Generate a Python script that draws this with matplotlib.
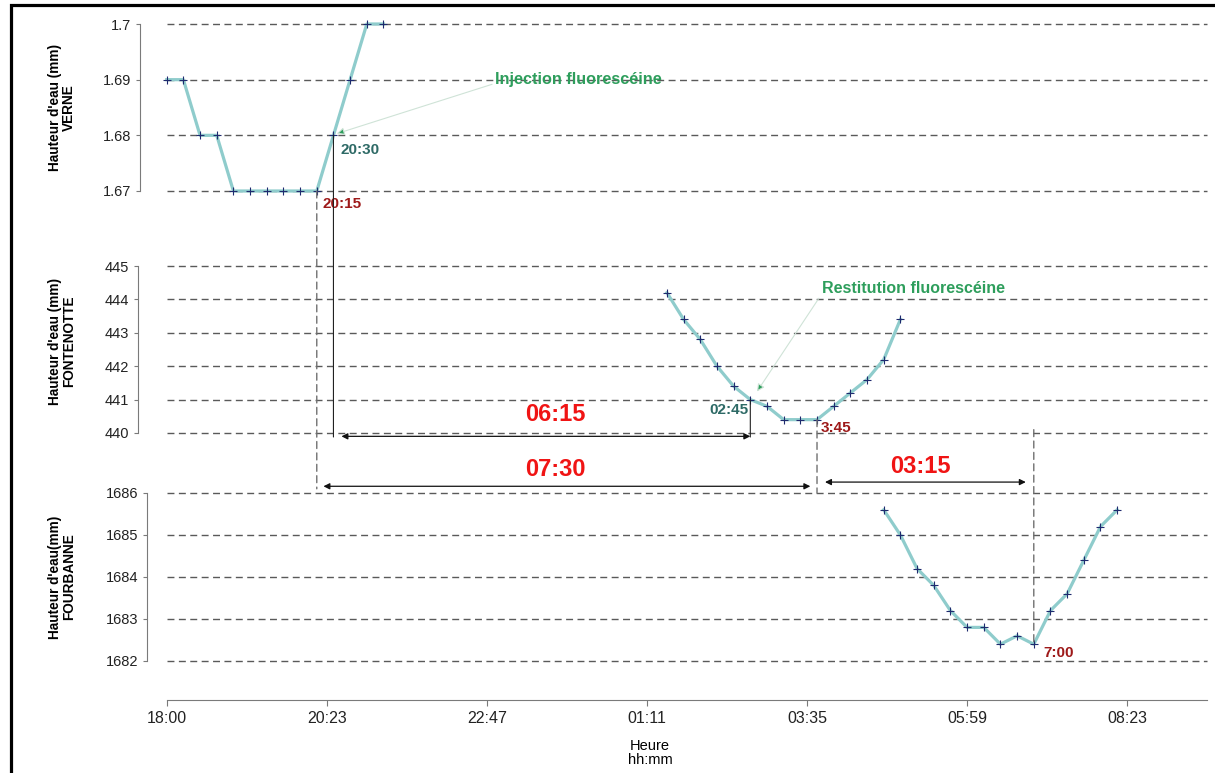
import matplotlib.pyplot as plt
from matplotlib.patches import Rectangle, ConnectionPatch

# ==========================================================
# DONNEES
# ==========================================================
verne_heures = ['18:00', '18:15', '18:30', '18:45', '19:00', '19:15', '19:30',
                '19:45', '20:00', '20:15', '20:30', '20:45', '21:00', '21:15']
verne_h = [1.69, 1.69, 1.68, 1.68, 1.67, 1.67, 1.67, 1.67, 1.67, 1.67, 1.68, 1.69, 1.70, 1.70]

fonten_heures = ['01:30', '01:45', '02:00', '02:15', '02:30', '02:45', '03:00', '03:15',
                 '03:30', '03:45', '04:00', '04:15', '04:30', '04:45', '05:00']
fonten_h = [444.2, 443.4, 442.8, 442.0, 441.4, 441.0, 440.8, 440.4,
            440.4, 440.4, 440.8, 441.2, 441.6, 442.2, 443.4]

fourb_heures = ['04:45', '05:00', '05:15', '05:30', '05:45', '06:00', '06:15', '06:30',
                '06:45', '07:00', '07:15', '07:30', '07:45', '08:00', '08:15']
fourb_h = [1685.6, 1685.0, 1684.2, 1683.8, 1683.2, 1682.8, 1682.8, 1682.4,
           1682.6, 1682.4, 1683.2, 1683.6, 1684.4, 1685.2, 1685.6]

xticks_labels = ['18:00', '20:23', '22:47', '01:11', '03:35', '05:59', '08:23']
xticks_heures = [18.0, 20.4, 22.8, 25.2, 27.6, 30.0, 32.4]

verne_yticks = [1.67, 1.68, 1.69, 1.70]
verne_ylabels = ['1.67', '1.68', '1.69', '1.7']
fonten_yticks = [440, 441, 442, 443, 444, 445]
fourb_yticks = [1682, 1683, 1684, 1685, 1686]

# evenements (heures annotees)
t_injection = '20:30'
t_debut_verne = '20:15'
t_restitution = '02:45'
t_min_fonten = '03:45'
t_min_fourb = '07:00'


def en_heures(hhmm):
    h, m = hhmm.split(':')
    val = int(h) + int(m) / 60
    if val < 12:
        val += 24
    return val


# ==========================================================
# STYLE
# ==========================================================
NARROW = ['Liberation Sans Narrow', 'Liberation Sans', 'DejaVu Sans']
BOLD = ['Liberation Sans', 'DejaVu Sans']
TEAL_LINE = '#8fcccc'
NAVY = '#1f2a6e'
GRID = '#5a5a5a'
SPINE = '#7a7a7a'
VERT = '#2e9e5c'
TEAL_TXT = '#2e6a66'
ROUGE_F = '#9e1a1a'
ROUGE = '#f01414'
DASH = (0, (5, 3.2))
PX = 0.72  # 1 pixel en points (dpi 100)

fig = plt.figure(figsize=(12.15, 7.73), dpi=100)
W, H = 1215, 773


def axes_px(left, top, right, bottom):
    return fig.add_axes([left / W, 1 - bottom / H, (right - left) / W, (bottom - top) / H])


ax1 = axes_px(166.7, 24, 1207.2, 191)
ax2 = axes_px(166.7, 266, 1207.2, 433)
ax3 = axes_px(166.7, 493, 1207.2, 661)

panneaux = [
    (ax1, verne_heures, verne_h, verne_yticks, "Hauteur d'eau (mm)\nVERNE", 27),
    (ax2, fonten_heures, fonten_h, fonten_yticks, "Hauteur d'eau (mm)\nFONTENOTTE", 29),
    (ax3, fourb_heures, fourb_h, fourb_yticks, "Hauteur d'eau(mm)\nFOURBANNE", 20),
]

for ax, heures, valeurs, yticks, ylab, decal in panneaux:
    t = [en_heures(x) for x in heures]
    ax.plot(t, valeurs, color=TEAL_LINE, lw=2.3, zorder=3, clip_on=False)
    ax.plot(t, valeurs, '+', color=NAVY, ms=6, mew=0.8, zorder=4, clip_on=False)
    ax.set_xlim(18, 33.6)
    ax.set_ylim(yticks[0], yticks[-1])
    ax.set_yticks(yticks)
    # quadrillage en tirets
    for y in yticks:
        ax.axhline(y, linestyle=DASH, color=GRID, lw=1.0, zorder=1, clip_on=False)
    for s in ['top', 'right', 'bottom']:
        ax.spines[s].set_visible(False)
    ax.spines['left'].set_position(('outward', decal * PX))
    ax.spines['left'].set_color(SPINE)
    ax.tick_params(axis='y', direction='out', length=3, color=SPINE, pad=3,
                   labelsize=10.5, labelcolor='#222222')
    for lab in ax.get_yticklabels():
        lab.set_family(NARROW)
    ax.tick_params(axis='x', bottom=False, labelbottom=False)
    ax.set_ylabel(ylab, fontsize=9.8, fontweight='bold', family=BOLD, linespacing=1.0)
    ax.yaxis.set_label_coords(-0.087, 0.5)
    ax.patch.set_alpha(0)

ax1.set_yticklabels(verne_ylabels)
for lab in ax1.get_yticklabels():
    lab.set_family(NARROW)
ax2.yaxis.set_label_coords(-0.087, 0.55)

# axe des temps sous FOURBANNE
ax3.spines['bottom'].set_visible(True)
ax3.spines['bottom'].set_position(('outward', 38.5 * PX))
ax3.spines['bottom'].set_color(SPINE)
ax3.set_xticks(xticks_heures)
ax3.set_xticklabels(xticks_labels)
ax3.tick_params(axis='x', bottom=True, labelbottom=True, direction='out', length=4.3,
                color=SPINE, labelsize=11.5, pad=4, labelcolor='#222222')
for lab in ax3.get_xticklabels():
    lab.set_family(NARROW)
ax3.set_xlabel('Heure\nhh:mm', fontsize=10.5, family=NARROW, linespacing=1.0)
ax3.xaxis.set_label_coords(0.4645, -0.465)

# ==========================================================
# LIGNES VERTICALES ENTRE PANNEAUX
# ==========================================================
tv = en_heures(t_debut_verne)
ti = en_heures(t_injection)
tr = en_heures(t_restitution)
tf = en_heures(t_min_fonten)
tb = en_heures(t_min_fourb)


def liaison(xa, ya, axa, xb, yb, axb, style, couleur, lw):
    cp = ConnectionPatch(xyA=(xa, ya), coordsA=axa.transData, xyB=(xb, yb), coordsB=axb.transData,
                         linestyle=style, color=couleur, lw=lw, zorder=2)
    fig.add_artist(cp)


liaison(tv, 1.67, ax1, tv, 1686.1, ax3, DASH, '#707070', 1.0)
liaison(ti, 1.68, ax1, ti, 439.88, ax2, '-', '#222222', 0.8)
liaison(tr, 441.0, ax2, tr, 439.88, ax2, '-', '#222222', 0.8)
liaison(tf, 440.4, ax2, tf, 1686.0, ax3, DASH, '#707070', 1.0)
liaison(tb, 440.1, ax2, tb, 1682.4, ax3, DASH, '#707070', 1.0)

# ==========================================================
# FLECHES DE DUREE
# ==========================================================
fl = dict(arrowstyle='<|-|>', color='#111111', lw=0.9, shrinkA=0, shrinkB=0, mutation_scale=9)
ax2.annotate('', xy=(tr, 439.9), xytext=(ti + 0.12, 439.9), arrowprops=fl, annotation_clip=False)
ax3.annotate('', xy=(tf - 0.1, 1686.16), xytext=(tv + 0.1, 1686.16), arrowprops=fl, annotation_clip=False)
ax3.annotate('', xy=(tb - 0.12, 1686.26), xytext=(tf + 0.12, 1686.26), arrowprops=fl, annotation_clip=False)

ax2.text(23.82, 440.55, '06:15', color=ROUGE, fontsize=17, fontweight='bold', family=BOLD,
         ha='center', va='center')
ax3.text(23.82, 1686.55, '07:30', color=ROUGE, fontsize=17, fontweight='bold', family=BOLD,
         ha='center', va='center')
ax3.text(29.3, 1686.62, '03:15', color=ROUGE, fontsize=17, fontweight='bold', family=BOLD,
         ha='center', va='center')

# ==========================================================
# ANNOTATIONS
# ==========================================================
fleche_verte = dict(arrowstyle='-|>', ec='#cfe3d7', fc=VERT, lw=0.8, shrinkA=0, shrinkB=0,
                    mutation_scale=11)
ax1.annotate('Injection fluorescéine', xy=(ti + 0.05, 1.6803), xytext=(22.92, 1.690),
             color=VERT, fontsize=11.7, fontweight='bold', family=BOLD, va='center', ha='left',
             arrowprops=dict(fleche_verte, relpos=(0, 0.25)), annotation_clip=False)
ax2.annotate('Restitution fluorescéine', xy=(26.85, 441.24), xytext=(27.82, 444.34),
             color=VERT, fontsize=11.5, fontweight='bold', family=BOLD, va='center', ha='left',
             arrowprops=dict(fleche_verte, relpos=(0, 0.1)), annotation_clip=False)

ax1.text(20.6, 1.6774, t_injection, color=TEAL_TXT, fontsize=11, fontweight='bold', family=BOLD,
         ha='left', va='center')
ax1.text(20.33, 1.6677, t_debut_verne, color=ROUGE_F, fontsize=11, fontweight='bold', family=BOLD,
         ha='left', va='center')
ax2.text(26.72, 440.69, t_restitution, color=TEAL_TXT, fontsize=11, fontweight='bold', family=BOLD,
         ha='right', va='center')
ax2.text(27.8, 440.15, '3:45', color=ROUGE_F, fontsize=11, fontweight='bold', family=BOLD,
         ha='left', va='center')
ax3.text(31.14, 1682.19, '7:00', color=ROUGE_F, fontsize=11, fontweight='bold', family=BOLD,
         ha='left', va='center')

# cadre
fig.add_artist(Rectangle((11 / W, -0.05), 1.2, 1 - 5 / H + 0.05, transform=fig.transFigure,
                         fill=False, ec='black', lw=2.3))

plt.savefig('out.png', dpi=100)
plt.close()
